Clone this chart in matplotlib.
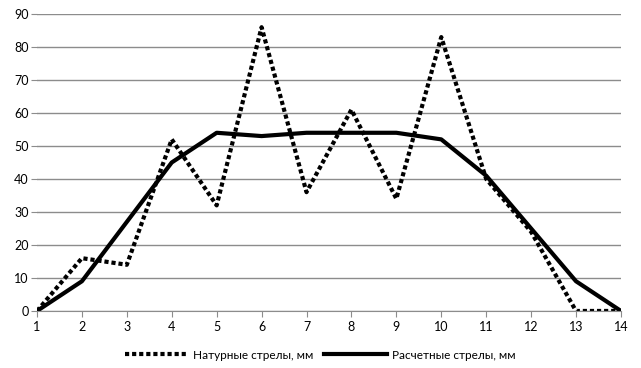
import matplotlib
matplotlib.use("Agg")
import matplotlib.pyplot as plt

# data
points = list(range(1, 15))
natural = [0, 16, 14, 52, 32, 86, 36, 61, 34, 83, 40, 24, 0, 0]
calculated = [0, 9, 27, 45, 54, 53, 54, 54, 54, 52, 41, 25, 9, 0]
labels = ["Натурные стрелы, мм", "Расчетные стрелы, мм"]

plt.rcParams["font.family"] = ["Lato", "DejaVu Sans"]

fig = plt.figure(figsize=(6.41, 3.68), dpi=100)
ax = fig.add_axes([0.0577, 0.155, 0.911, 0.807])

ax.plot(points, natural, color="black", linewidth=3, linestyle=(0, (1, 0.7)),
        label=labels[0])
ax.plot(points, calculated, color="black", linewidth=3, label=labels[1])

ax.set_xlim(1, 14)
ax.set_ylim(0, 90)
ax.set_xticks(points)
ax.set_yticks(range(0, 91, 10))

# horizontal grid only
ax.grid(axis="y", color="#8c8c8c", linewidth=1)
ax.set_axisbelow(True)
for side in ["top", "right", "left"]:
    ax.spines[side].set_visible(False)
ax.spines["bottom"].set_color("#8c8c8c")
ax.tick_params(axis="x", length=4, color="#8c8c8c", labelsize=9, pad=3)
ax.tick_params(axis="y", length=4, color="#8c8c8c", labelsize=9, pad=2)

# legend centred on the figure, below the axis
ax.legend(loc="center", bbox_to_anchor=(0.5, 0.035), bbox_transform=fig.transFigure,
          ncol=2, frameon=False, fontsize=8.5, handlelength=5.3,
          handletextpad=0.45, columnspacing=0.9)

fig.savefig("out.png", dpi=100)
